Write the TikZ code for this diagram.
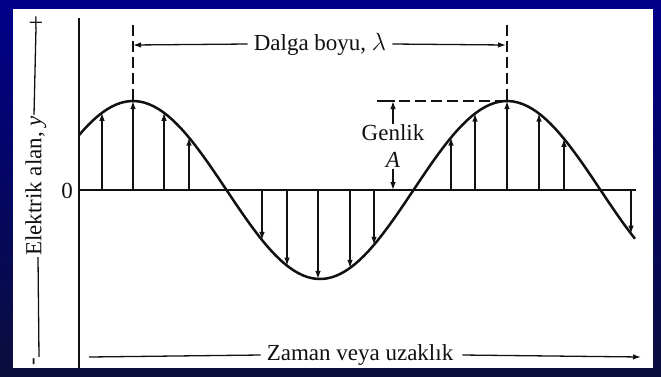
\documentclass[tikz,border=0pt]{standalone}
\usepackage{fontspec}
\setmainfont{Liberation Serif}
\usetikzlibrary{arrows.meta}
\definecolor{Frame}{HTML}{00008A}
\definecolor{FrameDark}{HTML}{0A0E3C}
\definecolor{Ink}{HTML}{111111}

\begin{document}
\begin{tikzpicture}[x=1pt,y=-1pt,
    wave/.style={line width=2.5pt,Ink},
    vec/.style={line width=1.3pt,Ink,-{Latex[length=8pt,width=5.5pt]}},
    rule/.style={line width=1.3pt,Ink},
    guide/.style={line width=1.3pt,Ink,dash pattern=on 11pt off 5pt},
    lbl/.style={font=\fontsize{23}{25}\selectfont,text=Ink,inner sep=1pt},
    declare function={wy(\x)=190-89*cos(0.962567*(\x-133));}]
    \shade[top color=Frame,bottom color=FrameDark] (0,0) rectangle (661,376);
    \fill[white] (13,9) rectangle (653,368);
    \useasboundingbox (0,0) rectangle (661,376);

    \draw[line width=1.8pt,Ink] (79,18) -- (79,368);
    \draw[line width=1.5pt,Ink] (79,190) -- (636,190);
    \node[lbl] (zero) at (67,191) {0};

    \draw[wave] plot[domain=79:635,samples=120] (\x,{wy(\x)});
    \foreach \x in {102,133,164,189,262,287,318,350,374,451,475,507,539,564,631}
      \draw[vec] (\x,190) -- (\x,{wy(\x)});

    \draw[guide] (133,25) -- (133,101);
    \draw[guide] (507,25) -- (507,101);
    \node[lbl] (lambda) at (320,44) {Dalga boyu, $\lambda$};
    \coordinate (lamL) at (133,45);
    \coordinate (lamR) at (506,45);
    \draw[vec] ([xshift=-5pt]lambda.west) -- (lamL);
    \draw[vec] ([xshift=5pt]lambda.east) -- (lamR);

    \draw[rule] (377,101) -- (395,101);
    \draw[guide] (399,101) -- (507,101);
    \node[lbl] (genlik) at (393,133) {Genlik};
    \node[lbl] (ampA) at (393,160) {\textit{A}};
    \coordinate (ampTop) at (393,101);
    \coordinate (ampBot) at (393,190);
    \draw[vec] (genlik.north) -- (ampTop);
    \draw[vec] (ampA.south) -- (ampBot);

    \node[lbl] (time) at (360,355) {Zaman veya uzaklık};
    \coordinate (timeL) at (89,357);
    \coordinate (timeR) at (641,357);
    \draw[rule] ([xshift=-5pt]time.west) -- (timeL);
    \draw[vec] ([xshift=8pt]time.east) -- (timeR);

    \node[lbl,rotate=90] (field) at (36,186) {Elektrik alan, \textit{y}};
    \node[lbl,font=\fontsize{26}{28}\selectfont] (plus) at (36,24) {+};
    \node[lbl,rotate=90] (minus) at (36,362) {-};
    \draw[rule] ([yshift=5pt]plus.south) -- ([xshift=-2pt]field.east);
    \draw[rule] ([xshift=2pt]field.west) -- ([xshift=3pt]minus.east);
\end{tikzpicture}
\end{document}
